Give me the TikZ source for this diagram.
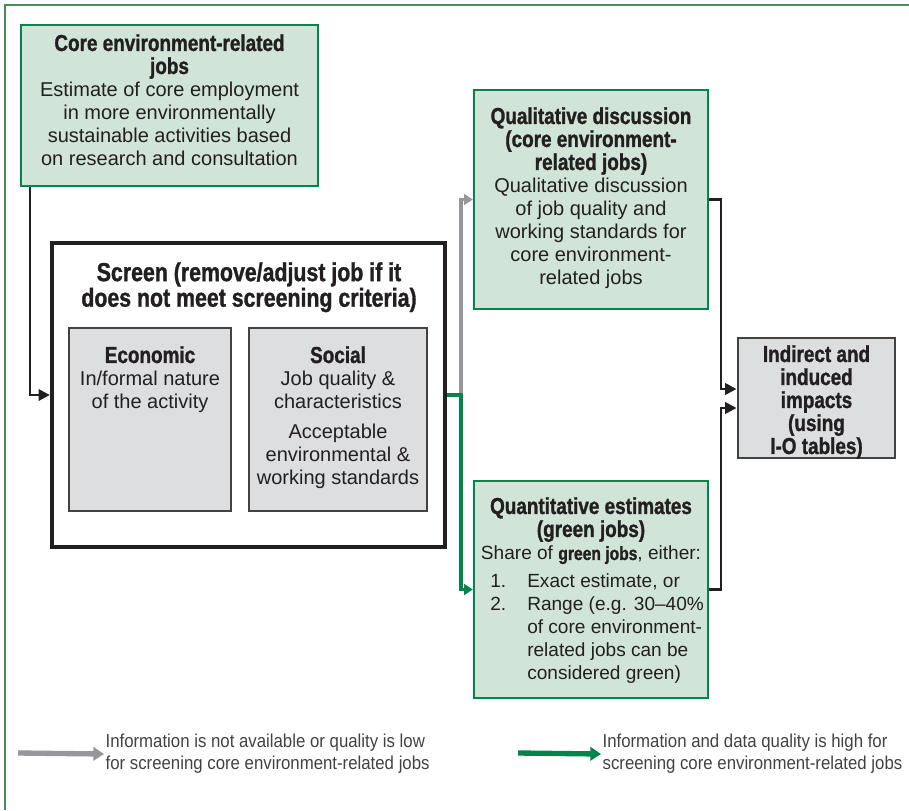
\documentclass[tikz,border=0pt]{standalone}
\usepackage{fontspec}
\setmainfont{Liberation Sans}[BoldFeatures={FakeStretch=0.82,FakeBold=1.2}]
\newfontfamily\legendfont{Liberation Sans}[FakeStretch=0.9]
\usetikzlibrary{arrows.meta,fit}

\definecolor{boxgreen}{RGB}{208,228,216}
\definecolor{linegreen}{RGB}{0,133,74}
\definecolor{framegreen}{RGB}{70,140,90}
\definecolor{boxgray}{RGB}{221,222,224}
\definecolor{arrowgray}{RGB}{150,150,155}
\definecolor{ink}{RGB}{35,31,32}

\newcommand{\hd}{\fontsize{17.3}{17.25}\selectfont\bfseries}
\newcommand{\sd}{\fontsize{19.5}{19.5}\selectfont\bfseries}
\newcommand{\id}{\fontsize{17.3}{15.5}\selectfont\bfseries}
\newcommand{\bd}{\fontsize{15}{17.25}\selectfont\mdseries}

\tikzset{
  greenbox/.style={draw=linegreen,line width=1.8pt,fill=boxgreen,inner sep=0pt},
  graybox/.style={draw=ink!85,line width=1.6pt,fill=boxgray,inner sep=0pt},
  screenbox/.style={draw=ink,line width=3.2pt,fill=white,inner sep=0pt},
  boxtext/.style={anchor=north,align=center,inner sep=0pt,text=ink,font=\bd},
  blackline/.style={draw=ink,line width=1.9pt,-{Triangle[length=8.5pt,width=8.5pt]}},
  grayline/.style={draw=arrowgray,line width=2.8pt,-{Triangle[length=6.5pt,width=8pt]}},
  greenline/.style={draw=linegreen,line width=2.8pt,-{Triangle[length=6.5pt,width=8pt]}},
  legend/.style={anchor=west,align=left,inner sep=1pt,text=ink!85,font=\legendfont\fontsize{14}{16.5}\selectfont},
}

\begin{document}
\begin{tikzpicture}[x=0.75pt,y=-0.75pt]
  \useasboundingbox (0,0) rectangle (909,810);
  \draw[framegreen,line width=1.2pt] (909,5) -- (5,5) -- (5,810);

  % boxes
  \node (core) [greenbox,fit={(21,25) (318,186)}] {};
  \node (screen) [screenbox,fit={(52,243) (445,547)}] {};
  \node (econ) [graybox,fit={(69,328) (231,511)}] {};
  \node (social) [graybox,fit={(249,328) (427,511)}] {};
  \node (qual) [greenbox,fit={(474,90) (708,309)}] {};
  \node (quant) [greenbox,fit={(474,481) (708,698)}] {};
  \node (indirect) [graybox,line width=2.2pt,fit={(738,338) (895,458)}] {};

  % texts
  \node (coretext) at (169.5,34) [boxtext] {\hd Core environment-related\\\hd jobs\\\bd Estimate of core employment\\in more environmentally\\sustainable activities based\\on research and consultation};
  \node (screentext) at (249,262) [boxtext] {\sd Screen (remove/adjust job if it\\\sd does not meet screening criteria)};
  \node (econtext) at (150,346) [boxtext] {\hd Economic\\\bd In/formal nature\\of the activity};
  \node (socialtext) at (338,346) [boxtext] {\hd Social\\\bd Job quality \&\\characteristics\\[5pt]Acceptable\\environmental \&\\working standards};
  \node (qualtext) at (591,107) [boxtext] {\hd Qualitative discussion\\\hd (core environment-\\\hd related jobs)\\\bd Qualitative discussion\\of job quality and\\working standards for\\core environment-\\related jobs};
  \node (indtext) at (816.5,345) [boxtext] {\id Indirect and\\\id induced\\\id impacts\\\id (using\\\id I-O tables)};
  \node (quanttext) at (591,497) [boxtext] {\hd Quantitative estimates\\\hd (green jobs)\\\fontsize{14.3}{17.25}\selectfont Share of \textbf{green jobs}, either:};
  \node (quantlist) at (490,573) [boxtext,anchor=north west,align=left,font=\fontsize{14.3}{17.25}\selectfont] {\makebox[27.75pt][l]{1.}Exact estimate, or\\\makebox[27.75pt][l]{2.}Range (e.g. 30--40\%\\\hspace*{27.75pt}of core environment-\\\hspace*{27.75pt}related jobs can be\\\hspace*{27.75pt}considered green)};

  % connectors
  \coordinate (split) at ([xshift=10.5pt]screen.east);
  \draw[blackline] ([xshift=7.5pt]core.south west) |- (screen.west);
  \draw[grayline] (split) |- (qual.west);
  \draw[greenline] (screen.east) -- (split) |- (quant.west);
  \draw[blackline] (qual.east) -- ++(12,0) |- ([yshift=6.75pt]indirect.west);
  \draw[blackline] (quant.east) -- ++(12,0) |- ([yshift=-7.5pt]indirect.west);

  % legend
  \node (lowtext) at (104,754) [legend] {Information is not available or quality is low\\for screening core environment-related jobs};
  \coordinate (lowstart) at (18,753);
  \draw[grayline,line width=4pt,-{Triangle[length=8pt,width=10pt]}] (lowstart) -- (lowtext.west);
  \node (hightext) at (601,754) [legend] {Information and data quality is high for\\screening core environment-related jobs};
  \coordinate (highstart) at (518,753);
  \draw[greenline,line width=4pt,-{Triangle[length=8pt,width=10pt]}] (highstart) -- (hightext.west);
\end{tikzpicture}
\end{document}
